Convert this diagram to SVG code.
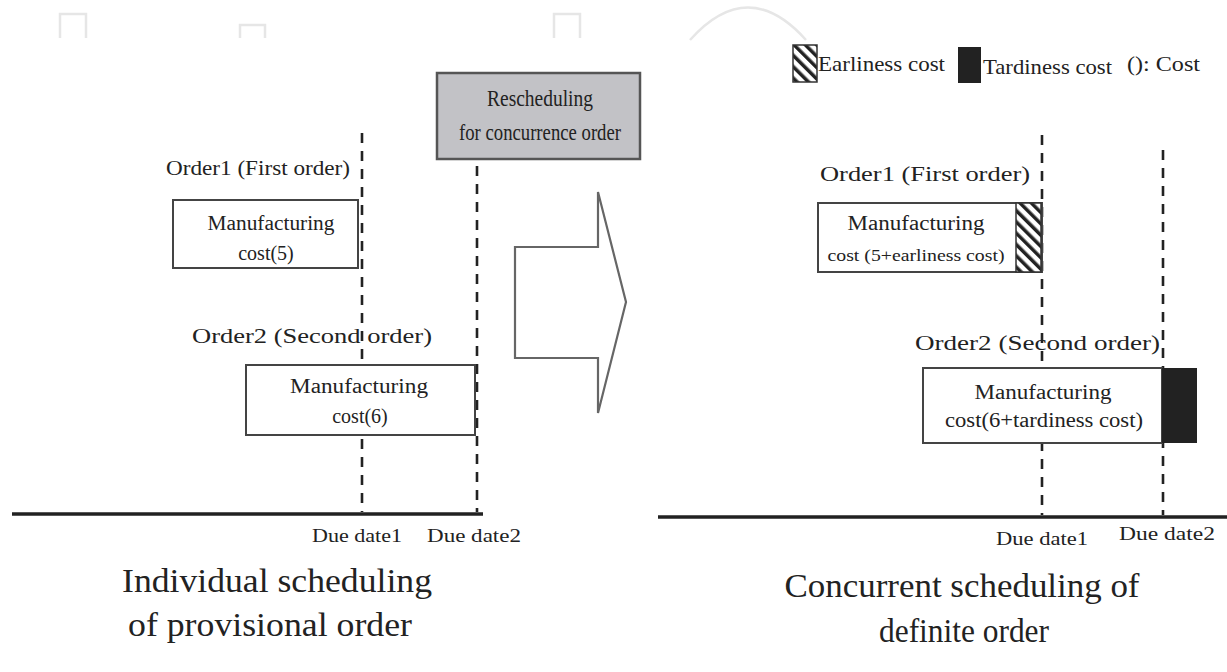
<svg xmlns="http://www.w3.org/2000/svg" width="1227" height="672" viewBox="0 0 1227 672">
<style>
  text { font-family: "Liberation Serif", "DejaVu Serif", serif; fill: #222; }
  .lbl { font-size: 22px; }
  .box { fill: #fff; stroke: #444; stroke-width: 2; }
  .bt { font-size: 20px; text-anchor: middle; }
  .due { font-size: 19px; }
  .title { font-size: 34px; text-anchor: middle; }
  .dash { stroke: #222; stroke-width: 2.6; stroke-dasharray: 10 8; fill: none; }
  .axis { stroke: #222; stroke-width: 3.5; fill: none; }
  .wm { stroke: #e6e6e6; stroke-width: 2.5; fill: none; }
</style>
<defs>
  <pattern id="hatch" patternUnits="userSpaceOnUse" width="8" height="8" patternTransform="rotate(-45)">
    <rect x="0" y="0" width="8" height="8" fill="#fff"/>
    <rect x="0" y="0" width="3.5" height="8" fill="#222"/>
  </pattern>
</defs>
<rect width="1227" height="672" fill="#fff"/>

<g id="watermark">
  <path class="wm" d="M60,38 V14 H86 V38"/>
  <path class="wm" d="M240,38 V25 H265 V38"/>
  <path class="wm" d="M554,38 V14 H580 V38"/>
  <path class="wm" d="M690,40 Q748,-25 806,40"/>
</g>

<g id="legend">
  <rect x="793" y="45" width="24" height="37" fill="url(#hatch)" stroke="#333" stroke-width="1.5"/>
  <text class="lbl" x="818" y="71" textLength="127" lengthAdjust="spacingAndGlyphs">Earliness cost</text>
  <rect x="958" y="47" width="23" height="36" fill="#222"/>
  <text class="lbl" x="983" y="74" textLength="129" lengthAdjust="spacingAndGlyphs">Tardiness cost</text>
  <text class="lbl" x="1127" y="71" textLength="73" lengthAdjust="spacingAndGlyphs">(): Cost</text>
</g>

<g id="connectors">
  <line class="dash" x1="362" y1="133" x2="362" y2="512"/>
  <line class="dash" x1="477" y1="166" x2="477" y2="512"/>
  <line class="axis" x1="12" y1="514" x2="483" y2="514"/>
  <line class="dash" x1="1042" y1="135" x2="1042" y2="515"/>
  <line class="dash" x1="1163" y1="150" x2="1163" y2="515"/>
  <line class="axis" x1="658" y1="517" x2="1227" y2="517"/>
</g>

<g id="left-order1">
  <text class="lbl" x="166" y="175" textLength="184" lengthAdjust="spacingAndGlyphs">Order1 (First order)</text>
  <rect class="box" x="173" y="200" width="185" height="68"/>
  <text class="bt" x="271" y="230" textLength="127" lengthAdjust="spacingAndGlyphs">Manufacturing</text>
  <text class="bt" x="266" y="260">cost(5)</text>
</g>

<g id="left-order2">
  <text class="lbl" x="192" y="343" textLength="240" lengthAdjust="spacingAndGlyphs">Order2 (Second order)</text>
  <rect class="box" x="246" y="365" width="229" height="70"/>
  <text class="bt" x="359" y="393" textLength="138" lengthAdjust="spacingAndGlyphs">Manufacturing</text>
  <text class="bt" x="360" y="423">cost(6)</text>
</g>

<g id="left-due">
  <text class="due" x="312" y="542" textLength="90" lengthAdjust="spacingAndGlyphs">Due date1</text>
  <text class="due" x="427" y="542" textLength="94" lengthAdjust="spacingAndGlyphs">Due date2</text>
</g>

<g id="left-title">
  <text class="title" x="277" y="592" textLength="310" lengthAdjust="spacingAndGlyphs">Individual scheduling</text>
  <text class="title" x="270" y="636" textLength="284" lengthAdjust="spacingAndGlyphs">of provisional order</text>
</g>

<g id="reschedule-box">
  <rect x="437" y="73" width="203" height="86" fill="#c2c2c6" stroke="#555" stroke-width="2.5"/>
  <text class="lbl" x="540" y="106" text-anchor="middle" style="font-size:23px" textLength="106" lengthAdjust="spacingAndGlyphs">Rescheduling</text>
  <text class="lbl" x="540" y="140" text-anchor="middle" style="font-size:23px" textLength="162" lengthAdjust="spacingAndGlyphs">for concurrence order</text>
</g>

<g id="transition-arrow">
  <polygon points="515,247 598,247 598,192 626,302 598,413 598,358 515,358" fill="#fff" stroke="#666" stroke-width="2.2" stroke-linejoin="miter"/>
</g>

<g id="right-order1">
  <text class="lbl" x="820" y="181" textLength="210" lengthAdjust="spacingAndGlyphs">Order1 (First order)</text>
  <rect class="box" x="818" y="203" width="224" height="69"/>
  <rect x="1016" y="203" width="25" height="69" fill="url(#hatch)" stroke="#333" stroke-width="1.5"/>
  <text class="bt" x="916" y="230" textLength="137" lengthAdjust="spacingAndGlyphs">Manufacturing</text>
  <text class="bt" x="916" y="261" style="font-size:16px" textLength="177" lengthAdjust="spacingAndGlyphs">cost (5+earliness cost)</text>
</g>

<g id="right-order2">
  <text class="lbl" x="915" y="350" textLength="245" lengthAdjust="spacingAndGlyphs">Order2 (Second order)</text>
  <rect class="box" x="923" y="368" width="239" height="75"/>
  <rect x="1162" y="368" width="35" height="75" fill="#222"/>
  <text class="bt" x="1043" y="399" textLength="137" lengthAdjust="spacingAndGlyphs">Manufacturing</text>
  <text class="bt" x="1044" y="427" textLength="198" lengthAdjust="spacingAndGlyphs">cost(6+tardiness cost)</text>
</g>

<g id="right-due">
  <text class="due" x="996" y="545" textLength="92" lengthAdjust="spacingAndGlyphs">Due date1</text>
  <text class="due" x="1119" y="540" textLength="96" lengthAdjust="spacingAndGlyphs">Due date2</text>
</g>

<g id="right-title">
  <text class="title" x="962" y="597" textLength="355" lengthAdjust="spacingAndGlyphs">Concurrent scheduling of</text>
  <text class="title" x="964" y="642" textLength="170" lengthAdjust="spacingAndGlyphs">definite order</text>
</g>
</svg>
